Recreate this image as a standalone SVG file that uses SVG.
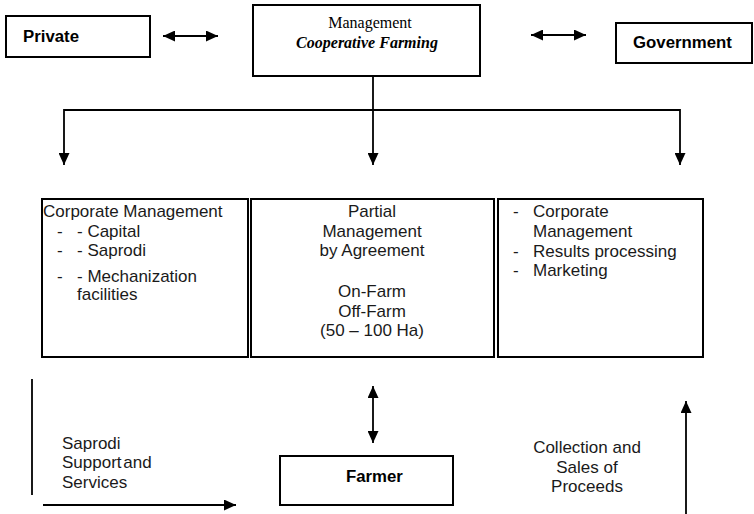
<svg xmlns="http://www.w3.org/2000/svg" width="754" height="514" viewBox="0 0 754 514">
<style>
.box{fill:#fff;stroke:#000;stroke-width:2}
.t{font-family:"Liberation Sans",Arial,sans-serif;font-size:17px;fill:#1a1a1a}
.b{font-family:"Liberation Sans",Arial,sans-serif;font-size:16.8px;font-weight:bold;fill:#000}
.s{font-family:"Liberation Serif","Times New Roman",serif;font-size:16px;fill:#000}
.c{text-anchor:middle}
.ln{fill:none;stroke:#000;stroke-width:1.8}
</style>
<defs>
<marker id="ah" viewBox="0 0 12 11" refX="12" refY="5.5" markerWidth="12" markerHeight="11" orient="auto-start-reverse" markerUnits="userSpaceOnUse">
<path d="M0,0 L12,5.5 L0,11 z" fill="#000"/>
</marker>
</defs>
<rect width="754" height="514" fill="#fff"/>
<g id="connectors">
<line class="ln" x1="163" y1="36" x2="218" y2="36" marker-start="url(#ah)" marker-end="url(#ah)"/>
<line class="ln" x1="531" y1="35" x2="586" y2="35" marker-start="url(#ah)" marker-end="url(#ah)"/>
<line class="ln" x1="373" y1="76" x2="373" y2="165" marker-end="url(#ah)"/>
<polyline class="ln" points="64,165 64,110 680,110 680,165" marker-start="url(#ah)" marker-end="url(#ah)"/>
<line class="ln" x1="373" y1="386" x2="373" y2="443" marker-start="url(#ah)" marker-end="url(#ah)"/>
<line class="ln" x1="32" y1="379" x2="32" y2="495"/>
<line class="ln" x1="43" y1="505" x2="236" y2="505" marker-end="url(#ah)"/>
<line class="ln" x1="686" y1="514" x2="686" y2="401" marker-end="url(#ah)"/>
</g>
<g id="private">
<rect class="box" x="6" y="16" width="144" height="41"/>
<text class="b" x="23" y="42">Private</text>
</g>
<g id="management">
<rect class="box" x="253" y="5" width="227" height="71"/>
<text class="s c" x="370" y="28">Management</text>
<text class="s c" x="367" y="48" font-weight="bold" font-style="italic" font-size="17">Cooperative Farming</text>
</g>
<g id="government">
<rect class="box" x="616" y="23" width="136" height="40"/>
<text class="b" x="633" y="48">Government</text>
</g>
<g id="corporate">
<rect class="box" x="42" y="199" width="206" height="158"/>
<text class="t" x="43" y="217">Corporate Management</text>
<text class="t" x="57" y="237">-</text><text class="t" x="77" y="237">- Capital</text>
<text class="t" x="57" y="256">-</text><text class="t" x="77" y="256">- Saprodi</text>
<text class="t" x="57" y="282">-</text><text class="t" x="77" y="282">- Mechanization</text>
<text class="t" x="77" y="300">facilities</text>
</g>
<g id="partial">
<rect class="box" x="251" y="199" width="243" height="158"/>
<text class="t c" x="372" y="217">Partial</text>
<text class="t c" x="372" y="237">Management</text>
<text class="t c" x="372" y="256">by Agreement</text>
<text class="t c" x="372" y="297">On-Farm</text>
<text class="t c" x="372" y="317">Off-Farm</text>
<text class="t c" x="372" y="336">(50 – 100 Ha)</text>
</g>
<g id="processing">
<rect class="box" x="498" y="199" width="205" height="158"/>
<text class="t" x="513" y="217">-</text><text class="t" x="533" y="217">Corporate</text>
<text class="t" x="533" y="237">Management</text>
<text class="t" x="513" y="257">-</text><text class="t" x="533" y="257">Results processing</text>
<text class="t" x="513" y="276">-</text><text class="t" x="533" y="276">Marketing</text>
</g>
<g id="farmer">
<rect class="box" x="280" y="456" width="173" height="49"/>
<text class="b" x="346" y="482">Farmer</text>
</g>
<g id="labels">
<text class="t" x="62" y="449">Saprodi</text>
<text class="t" x="62" y="468" word-spacing="-3">Support and</text>
<text class="t" x="62" y="488">Services</text>
<text class="t c" x="587" y="453">Collection and</text>
<text class="t c" x="587" y="473">Sales of</text>
<text class="t c" x="587" y="492">Proceeds</text>
</g>
</svg>
